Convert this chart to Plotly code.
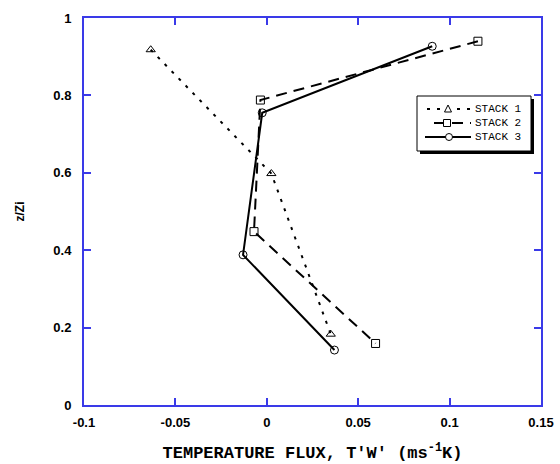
import plotly.graph_objects as go

# Data
stack1_x = [-0.0635, 0.0025, 0.035]
stack1_y = [0.918, 0.598, 0.183]
stack2_x = [0.1155, -0.0035, -0.007, 0.0595]
stack2_y = [0.940, 0.788, 0.448, 0.159]
stack3_x = [0.0905, -0.0025, -0.013, 0.037]
stack3_y = [0.927, 0.755, 0.388, 0.142]
names = ["STACK 1", "STACK 2", "STACK 3"]

x_ticks = [-0.1, -0.05, 0, 0.05, 0.1, 0.15]
x_ticklabels = ["-0.1", "-0.05", "0", "0.05", "0.1", "0.15"]
y_ticks = [0, 0.2, 0.4, 0.6, 0.8, 1]
y_ticklabels = ["0", "0.2", "0.4", "0.6", "0.8", "1"]

AXIS_BLUE = "#3a3ae8"
MONO = "Liberation Mono, DejaVu Sans Mono, monospace"
BOLD = "Liberation Sans, Arial, sans-serif"

# figure geometry (pixels)
W, H = 560, 464
ML, MR, MT, MB = 84, 19, 18, 59
PW, PH = W - ML - MR, H - MT - MB


def px(xp):
    return (xp - ML) / PW


def py(yp):
    return (H - MB - yp) / PH


dashes = ["3px,7px", "11px,7px", "solid"]
symbols = ["triangle-up-open", "square-open", "circle-open"]
xs = [stack1_x, stack2_x, stack3_x]
ys = [stack1_y, stack2_y, stack3_y]

fig = go.Figure()
for i in range(3):
    fig.add_trace(go.Scatter(
        x=xs[i], y=ys[i], name=names[i], mode="lines+markers",
        line=dict(color="black", width=2, dash=dashes[i]),
        marker=dict(symbol=symbols[i], size=8, color="black",
                    line=dict(width=1, color="black")),
        showlegend=False,
    ))

# hand-built legend box (with drop shadow), matching the reference layout
shapes = []
annotations = []
bx0, bx1, by0, by1 = 417, 531, 96, 151
shapes.append(dict(type="rect", xref="paper", yref="paper",
                   x0=px(bx0 + 3), x1=px(bx1 + 3), y0=py(by1 + 3), y1=py(by0 + 3),
                   fillcolor="black", line=dict(width=0), layer="above"))
shapes.append(dict(type="rect", xref="paper", yref="paper",
                   x0=px(bx0), x1=px(bx1), y0=py(by1), y1=py(by0),
                   fillcolor="white", line=dict(color="black", width=1), layer="above"))
rows = [109, 123, 137]
line_x0 = [427, 434, 425]
line_x1 = [471, 471, 471]
mark_x = [448, 447, 449]
s = 3.5
for i in range(3):
    yr = rows[i]
    shapes.append(dict(type="line", xref="paper", yref="paper",
                       x0=px(line_x0[i]), x1=px(line_x1[i]), y0=py(yr), y1=py(yr),
                       line=dict(color="black", width=2,
                                 dash=None if dashes[i] == "solid" else dashes[i]),
                       layer="above"))
    mx = mark_x[i]
    if i == 0:
        path = "M {} {} L {} {} L {} {} Z".format(
            px(mx - s), py(yr + s - 0.5), px(mx + s), py(yr + s - 0.5), px(mx), py(yr - s - 0.5))
        shapes.append(dict(type="path", xref="paper", yref="paper", path=path,
                           fillcolor="white", line=dict(color="black", width=1), layer="above"))
    elif i == 1:
        shapes.append(dict(type="rect", xref="paper", yref="paper",
                           x0=px(mx - s), x1=px(mx + s), y0=py(yr + s), y1=py(yr - s),
                           fillcolor="white", line=dict(color="black", width=1), layer="above"))
    else:
        shapes.append(dict(type="circle", xref="paper", yref="paper",
                           x0=px(mx - s), x1=px(mx + s), y0=py(yr + s), y1=py(yr - s),
                           fillcolor="white", line=dict(color="black", width=1), layer="above"))
    annotations.append(dict(xref="paper", yref="paper", x=px(474), y=py(yr),
                            xanchor="left", yanchor="middle", showarrow=False,
                            text=names[i], borderpad=0,
                            font=dict(family=MONO, size=11, color="black")))

fig.update_layout(
    width=W, height=H,
    margin=dict(l=ML, r=MR, t=MT, b=MB, autoexpand=False),
    paper_bgcolor="white", plot_bgcolor="white",
    showlegend=False,
    shapes=shapes,
    annotations=annotations,
    xaxis=dict(
        range=[-0.1, 0.15], tickvals=x_ticks, ticktext=x_ticklabels,
        showgrid=False, zeroline=False, automargin=False,
        showline=True, linecolor=AXIS_BLUE, linewidth=2, mirror="ticks",
        ticks="inside", ticklen=7, tickwidth=2, tickcolor=AXIS_BLUE,
        ticklabelstandoff=4,
        tickfont=dict(family=BOLD, size=13, color="black", weight="bold"),
        title=dict(text="TEMPERATURE FLUX, T'W' (ms<sup>-1</sup>K)",
                   font=dict(family=MONO, size=17, color="black", weight="bold"),
                   standoff=18),
    ),
    yaxis=dict(
        range=[0, 1], tickvals=y_ticks, ticktext=y_ticklabels,
        showgrid=False, zeroline=False, automargin=False,
        showline=True, linecolor=AXIS_BLUE, linewidth=2, mirror="ticks",
        ticks="inside", ticklen=7, tickwidth=2, tickcolor=AXIS_BLUE,
        ticklabelstandoff=8,
        tickfont=dict(family=BOLD, size=13, color="black", weight="bold"),
        title=dict(text="z/Zi", font=dict(family=BOLD, size=12, color="black", weight="bold"),
                   standoff=26),
    ),
)

fig.write_html("out.html")
